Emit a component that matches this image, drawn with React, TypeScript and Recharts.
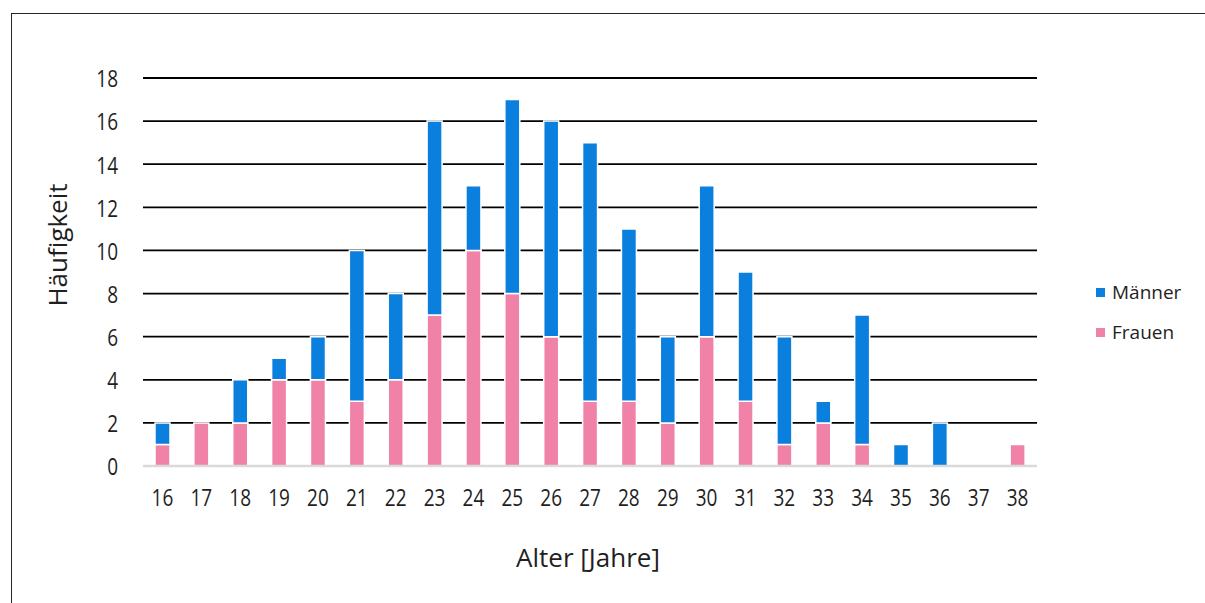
import { BarChart, Bar, XAxis, YAxis, CartesianGrid } from 'recharts';

const ages = ['16', '17', '18', '19', '20', '21', '22', '23', '24', '25', '26', '27', '28', '29', '30', '31', '32', '33', '34', '35', '36', '37', '38'];
const frauen = [1, 2, 2, 4, 4, 3, 4, 7, 10, 8, 6, 3, 3, 2, 6, 3, 1, 2, 1, 0, 0, 0, 1];
const maenner = [1, 0, 2, 1, 2, 7, 4, 9, 3, 9, 10, 12, 8, 4, 7, 6, 5, 1, 6, 1, 2, 0, 0];
const yTicks = [0, 2, 4, 6, 8, 10, 12, 14, 16, 18];

const BLUE = '#0a7fde';
const PINK = '#f082a8';
const TEXT = '#1f1f1f';
const FONT = '"Open Sans", sans-serif';

const data = ages.map((age, i) => ({ age, Frauen: frauen[i], Männer: maenner[i] }));

const legendItems = [
  { name: 'Männer', color: BLUE },
  { name: 'Frauen', color: PINK },
];

// digits in the original are tall and narrow, so stretch them a little
const Tick = ({ x, y, payload, textAnchor }: any) => (
  <g transform={`translate(${x},${y})`}>
    <text
      transform="scale(1,1.22)"
      textAnchor={textAnchor}
      dominantBaseline="central"
      fontSize={19}
      fontFamily={FONT}
      fill={TEXT}
    >
      {payload.value}
    </text>
  </g>
);

export default function App() {
  return (
    <div style={{ fontFamily: FONT }}>
      <div
        style={{
          position: 'absolute',
          left: 11,
          top: 13,
          width: 1194,
          height: 590,
          boxSizing: 'border-box',
          borderTop: '1.5px solid #262626',
          borderLeft: '1.5px solid #262626',
        }}
      />
      <div style={{ position: 'absolute', left: 0, top: 0 }}>
        <BarChart
          width={1205}
          height={603}
          data={data}
          margin={{ top: 78, right: 168, bottom: 107, left: 83 }}
          barSize={15}
        >
          <CartesianGrid vertical={false} stroke="#000" strokeWidth={1.8} />
          <XAxis
            dataKey="age"
            interval={0}
            tickLine={false}
            tickSize={0}
            tickMargin={31}
            axisLine={{ stroke: '#d9d9d9', strokeWidth: 2.5 }}
            tick={<Tick />}
            label={{
              content: () => (
                <text
                  x={588}
                  y={557}
                  textAnchor="middle"
                  dominantBaseline="central"
                  fontSize={26}
                  fontFamily={FONT}
                  fill={TEXT}
                >
                  Alter [Jahre]
                </text>
              ),
            }}
          />
          <YAxis
            width={60}
            domain={[0, 18]}
            ticks={yTicks}
            axisLine={false}
            tickLine={false}
            tickSize={0}
            tickMargin={25}
            tick={<Tick />}
            label={{
              content: () => (
                <text
                  x={57}
                  y={245}
                  transform="rotate(-90 57 245)"
                  textAnchor="middle"
                  dominantBaseline="central"
                  fontSize={26}
                  fontFamily={FONT}
                  fill={TEXT}
                >
                  Häufigkeit
                </text>
              ),
            }}
          />
          <Bar dataKey="Frauen" stackId="a" fill={PINK} stroke="#fff" strokeWidth={1.5} isAnimationActive={false} />
          <Bar dataKey="Männer" stackId="a" fill={BLUE} stroke="#fff" strokeWidth={1.5} isAnimationActive={false} />
        </BarChart>
      </div>
      <div style={{ position: 'absolute', left: 1096, top: 272 }}>
        {legendItems.map((item) => (
          <div key={item.name} style={{ display: 'flex', alignItems: 'center', height: 40 }}>
            <span style={{ width: 9, height: 9, background: item.color, marginRight: 7 }} />
            <span style={{ fontSize: 19, color: TEXT }}>{item.name}</span>
          </div>
        ))}
      </div>
    </div>
  );
}
